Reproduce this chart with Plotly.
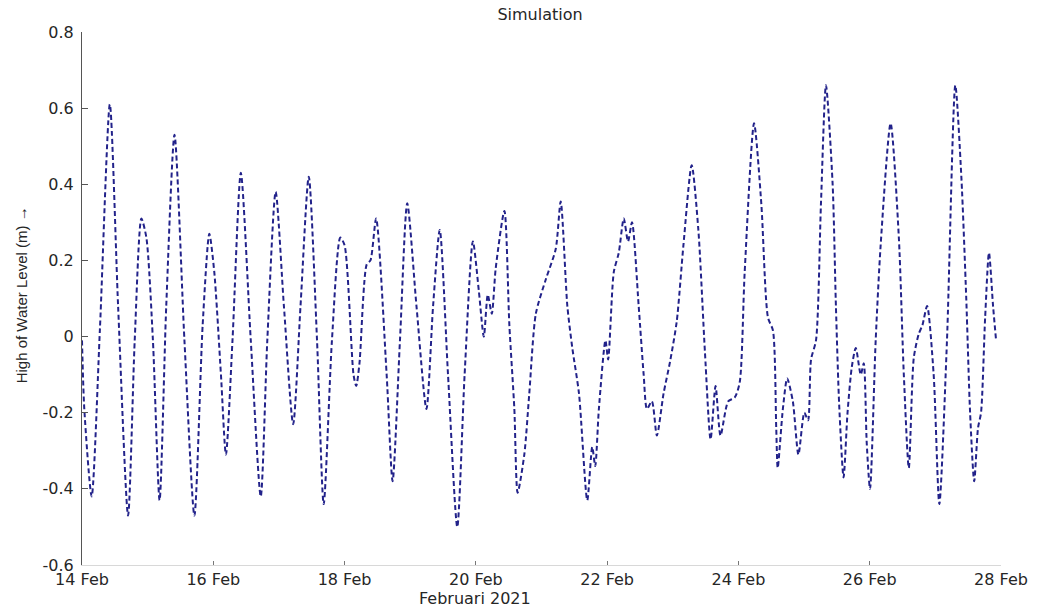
import pandas as pd
import plotly.graph_objects as go

# hours after 14 Feb 2021 00:00
hours = [0.0, 0.84, 3.53, 6.55, 10.18, 13.2, 16.84, 19.27, 21.71, 23.53,
         25.93, 28.36, 30.8, 33.82, 37.45, 41.09, 44.11, 46.55, 48.36, 50.8,
         52.62, 55.02, 58.07, 61.71, 65.35, 67.75, 70.8, 73.82, 77.2, 79.89,
         82.91, 85.93, 88.36, 91.38, 94.44, 96.0, 99.27, 100.25, 101.45, 104.11,
         105.45, 107.53, 111.38, 113.56, 116.25, 118.91, 122.29, 125.93, 128.36, 130.8,
         133.82, 137.2, 139.89, 142.91, 145.09, 146.91, 148.36, 149.82, 151.27, 154.44,
         156.25, 158.07, 159.27, 161.71, 163.53, 165.93, 169.56, 173.2, 175.02, 177.45,
         179.27, 181.71, 184.73, 186.55, 187.64, 188.98, 191.38, 192.36, 194.44, 196.25,
         198.07, 199.64, 201.09, 203.53, 205.35, 206.55, 208.36, 210.18, 212.62, 215.02,
         217.45, 219.89, 222.91, 225.35, 227.75, 229.82, 231.64, 233.45, 236.25, 238.65,
         240.47, 242.29, 245.71, 248.36, 250.8, 252.62, 253.82, 254.36, 256.25, 257.82,
         259.89, 261.93, 264.11, 265.45, 266.55, 268.36, 270.18, 272.0, 274.44, 275.64,
         276.84, 278.44, 279.89, 281.45, 282.91, 284.73, 285.82, 286.91, 288.11, 290.18,
         292.0, 295.64, 298.65, 300.47, 302.29, 304.11, 305.93, 307.27, 308.98, 311.38,
         313.45, 316.25, 319.3, 321.5, 323.3, 324.7, 326.2, 327.6, 328.7, 330.2,
         331.6, 333.1, 334.2]

water_level = [-0.01, -0.19, -0.42, 0.02, 0.61, 0.08, -0.47, -0.01, 0.31, 0.26,
               -0.01, -0.43, 0.08, 0.53, -0.01, -0.47, 0.03, 0.27, 0.17, -0.10,
               -0.31, -0.01, 0.43, -0.01, -0.42, -0.01, 0.38, 0.08, -0.23, 0.08,
               0.42, -0.01, -0.44, -0.01, 0.26, 0.24, -0.10, -0.13, -0.07, 0.19,
               0.20, 0.31, -0.10, -0.38, -0.01, 0.35, 0.08, -0.19, 0.08, 0.28,
               -0.10, -0.50, -0.10, 0.25, 0.12, 0.00, 0.11, 0.06, 0.18, 0.33,
               0.03, -0.19, -0.41, -0.31, -0.15, 0.06, 0.15, 0.23, 0.355, 0.08,
               -0.03, -0.15, -0.43, -0.29, -0.34, -0.19, -0.01, -0.06, 0.17, 0.22,
               0.31, 0.25, 0.30, 0.08, -0.10, -0.19, -0.17, -0.26, -0.15, -0.065,
               0.04, 0.24, 0.45, 0.28, -0.04, -0.27, -0.13, -0.26, -0.17, -0.16,
               -0.12, 0.17, 0.56, 0.35, 0.05, 0.016, -0.24, -0.345, -0.19, -0.11,
               -0.17, -0.31, -0.20, -0.22, -0.06, -0.01, 0.35, 0.66, 0.40, 0.08,
               -0.18, -0.37, -0.20, -0.08, -0.03, -0.10, -0.07, -0.28, -0.40, -0.01,
               0.24, 0.56, 0.26, -0.10, -0.345, -0.056, 0.007, 0.03, 0.08, -0.10,
               -0.44, -0.01, 0.66, 0.42, 0.10, -0.20, -0.38, -0.24, -0.20, 0.05,
               0.22, 0.08, -0.01]

y_tickvals = [-0.6, -0.4, -0.2, 0, 0.2, 0.4, 0.6, 0.8]
y_ticktext = ["-0.6", "-0.4", "-0.2", "0", "0.2", "0.4", "0.6", "0.8"]

title_text = "Simulation"
x_title = "Februari 2021"
y_title = "High of Water Level (m) \u2192"

start = pd.Timestamp("2021-02-14")
times = start + pd.to_timedelta(hours, unit="h")

wide_font = "DejaVu Sans, Verdana, sans-serif"
narrow_font = "Liberation Sans, Arial, sans-serif"
text_color = "#262626"

fig = go.Figure()
fig.add_trace(go.Scatter(
    x=times, y=water_level, mode="lines",
    line=dict(color="#22228a", width=2, dash="5px,3px", shape="spline", smoothing=0.7),
    showlegend=False,
))

fig.update_layout(
    width=1040, height=613,
    margin=dict(l=82, r=34, t=32, b=48),
    paper_bgcolor="white", plot_bgcolor="white",
    font=dict(family=wide_font, size=16, color=text_color),
    title=dict(text=title_text, x=540 / 1040, xanchor="center", xref="container",
               y=1 - 14 / 613, yanchor="middle", yref="container",
               font=dict(family=wide_font, size=16, color=text_color)),
    xaxis=dict(
        range=["2021-02-14", "2021-02-28"],
        tick0="2021-02-14", dtick=2 * 86400000, tickformat="%d %b",
        ticks="inside", ticklen=4, tickcolor="#777",
        showline=True, linecolor="#d8d8d8", linewidth=1,
        showgrid=False, zeroline=False,
        tickfont=dict(family=wide_font, size=16, color=text_color),
    ),
    yaxis=dict(
        range=[-0.6, 0.8], tickvals=y_tickvals, ticktext=y_ticktext,
        ticks="inside", ticklen=6, tickcolor="#555",
        showline=True, linecolor="#555", linewidth=1,
        showgrid=False, zeroline=False, ticklabelstandoff=4,
        tickfont=dict(family=wide_font, size=16, color=text_color),
    ),
    annotations=[
        dict(text=x_title, xref="paper", yref="paper",
             x=(477 - 82) / 924, y=(565 - 598) / 533,
             xanchor="center", yanchor="middle", showarrow=False,
             font=dict(family=wide_font, size=16, color=text_color)),
        dict(text=y_title, xref="paper", yref="paper",
             x=(21 - 82) / 924, y=(565 - 295) / 533,
             xanchor="center", yanchor="middle", showarrow=False, textangle=-90,
             font=dict(family=narrow_font, size=15, color=text_color)),
    ],
)

fig.write_html("out.html")
